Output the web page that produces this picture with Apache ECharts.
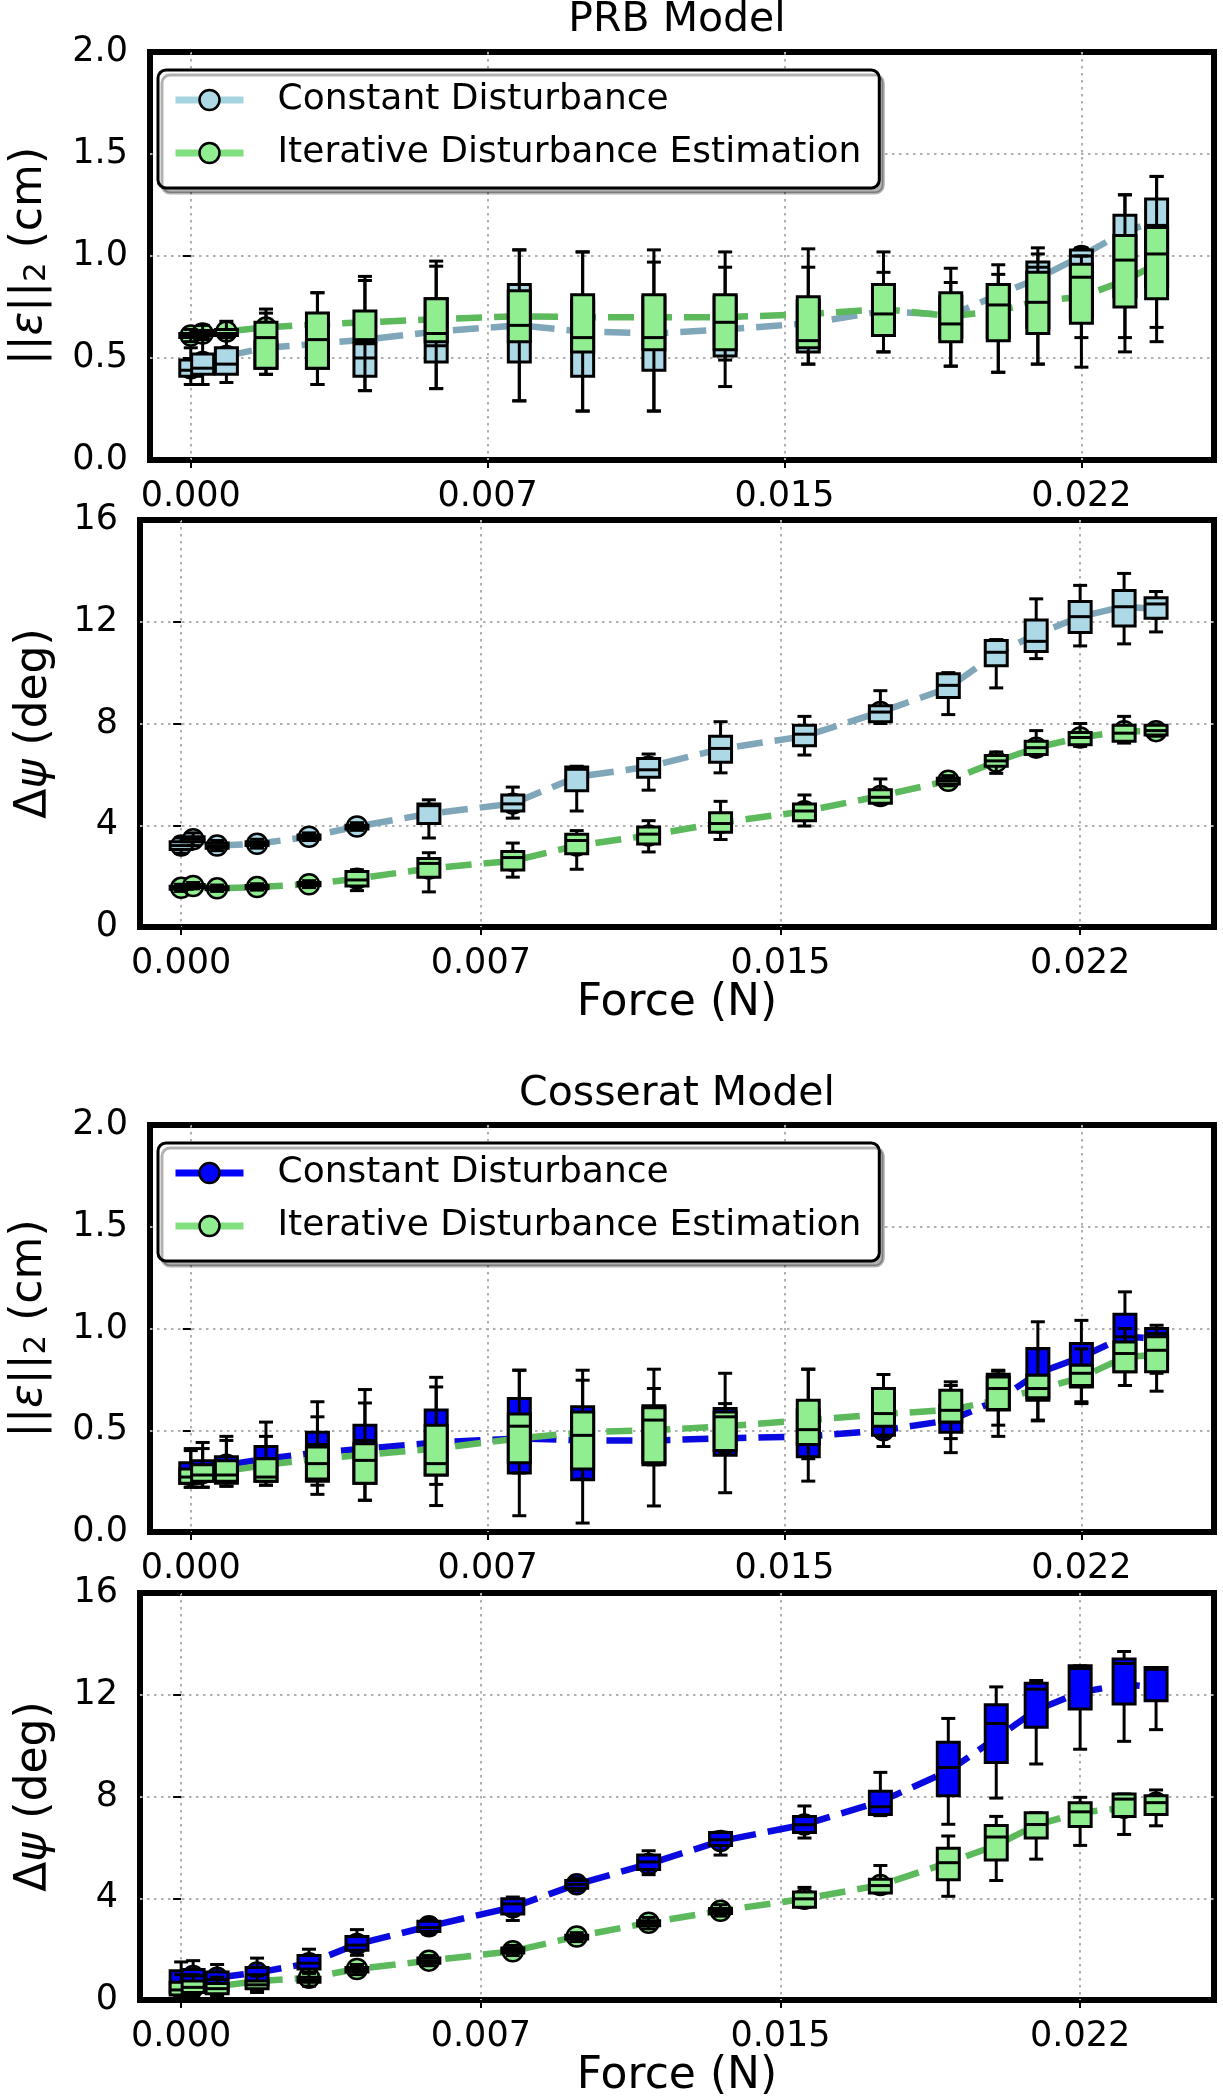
<!DOCTYPE html>
<html>
<head>
<meta charset="utf-8">
<title>PRB vs Cosserat</title>
<script src="https://cdn.jsdelivr.net/npm/echarts@6/dist/echarts.min.js"></script>
<style>
  html, body { margin: 0; padding: 0; background: #fff; }
  #chart { width: 1223px; height: 2100px; }
</style>
</head>
<body>
<div id="chart"></div>
<script>
// force values where the boxes sit (N)
var force = [0, 0.0003, 0.0009, 0.0019, 0.0032, 0.0044, 0.0062, 0.0083, 0.0099, 0.0117,
  0.0135, 0.0156, 0.0175, 0.0192, 0.0204, 0.0214, 0.0225, 0.0236, 0.0244];

// tick labels
var xTickValues = [0, 0.0075, 0.015, 0.0225];
var xTickLabels = ['0.000', '0.007', '0.015', '0.022'];
var errTickLabels = ['0.0', '0.5', '1.0', '1.5', '2.0'];
var psiTickLabels = ['0', '4', '8', '12', '16'];

// legend text
var legendText = {
  'PRB Constant': 'Constant Disturbance',
  'PRB Iterative': 'Iterative Disturbance Estimation',
  'Cosserat Constant': 'Constant Disturbance',
  'Cosserat Iterative': 'Iterative Disturbance Estimation'
};

// box stats: [low whisker, q1, median, q3, high whisker]
// PRB model, position error (cm)
var prbErrConst = [
  [0.37, 0.41, 0.44, 0.49, 0.55], [0.37, 0.42, 0.45, 0.52, 0.60], [0.38, 0.42, 0.47, 0.55, 0.62],
  [0.42, 0.45, 0.48, 0.58, 0.72], [0.37, 0.45, 0.53, 0.58, 0.82], [0.34, 0.41, 0.50, 0.57, 0.88],
  [0.35, 0.48, 0.56, 0.79, 0.95], [0.29, 0.48, 0.675, 0.86, 1.03], [0.24, 0.41, 0.585, 0.78, 1.02],
  [0.24, 0.44, 0.66, 0.80, 0.97], [0.36, 0.51, 0.58, 0.80, 0.945], [0.47, 0.53, 0.56, 0.78, 0.945],
  [0.53, 0.62, 0.72, 0.85, 0.92], [0.46, 0.60, 0.70, 0.80, 0.87], [0.43, 0.60, 0.775, 0.86, 0.91],
  [0.47, 0.65, 0.945, 0.97, 1.04], [0.60, 0.70, 1.00, 1.03, 1.04], [0.60, 0.80, 1.10, 1.20, 1.30],
  [0.65, 0.85, 1.15, 1.28, 1.39]
];
var prbErrConstMean = [0.45, 0.48, 0.51, 0.55, 0.57, 0.59, 0.63, 0.66, 0.63, 0.62, 0.64, 0.67,
  0.73, 0.71, 0.81, 0.89, 1.00, 1.12, 1.17];
var prbErrIter = [
  [0.58, 0.60, 0.61, 0.62, 0.64], [0.59, 0.61, 0.62, 0.635, 0.66], [0.60, 0.61, 0.62, 0.64, 0.68],
  [0.42, 0.45, 0.60, 0.675, 0.74], [0.37, 0.45, 0.59, 0.72, 0.82], [0.34, 0.58, 0.59, 0.73, 0.90],
  [0.35, 0.58, 0.62, 0.79, 0.975], [0.29, 0.58, 0.66, 0.83, 1.03], [0.24, 0.53, 0.60, 0.81, 1.02],
  [0.24, 0.54, 0.60, 0.81, 1.03], [0.49, 0.54, 0.675, 0.81, 1.02], [0.47, 0.55, 0.585, 0.80, 1.035],
  [0.53, 0.61, 0.716, 0.86, 1.02], [0.46, 0.58, 0.667, 0.82, 0.94], [0.43, 0.585, 0.76, 0.86, 0.957],
  [0.47, 0.62, 0.773, 0.92, 1.01], [0.455, 0.67, 0.896, 0.96, 1.00], [0.53, 0.75, 0.98, 1.10, 1.30],
  [0.58, 0.79, 1.01, 1.14, 1.39]
];
var prbErrIterMean = [0.61, 0.62, 0.63, 0.65, 0.665, 0.675, 0.69, 0.705, 0.70, 0.70, 0.70, 0.715,
  0.74, 0.705, 0.73, 0.78, 0.80, 0.88, 0.96];

// PRB model, orientation error (deg)
var prbPsiConst = [
  [2.9, 3.05, 3.2, 3.35, 3.5], [3.2, 3.35, 3.45, 3.55, 3.7], [3.0, 3.1, 3.2, 3.3, 3.4],
  [3.1, 3.2, 3.25, 3.35, 3.45], [3.4, 3.45, 3.55, 3.62, 3.7], [3.8, 3.85, 3.92, 4.0, 4.1],
  [3.5, 4.07, 4.77, 4.84, 5.0], [4.28, 4.56, 4.84, 5.19, 5.5], [4.56, 5.36, 6.2, 6.29, 6.32],
  [5.38, 5.89, 6.18, 6.62, 6.8], [6.06, 6.48, 7.02, 7.5, 8.07], [6.76, 7.13, 7.58, 7.93, 8.28],
  [8.0, 8.07, 8.45, 8.7, 9.29], [8.35, 9.02, 9.5, 9.96, 10.0], [9.4, 10.27, 10.8, 11.26, 11.3],
  [10.55, 10.83, 11.23, 12.07, 12.9], [11.05, 11.58, 12.2, 12.8, 13.43], [11.13, 11.83, 12.59, 13.23, 13.9],
  [11.6, 12.14, 12.7, 12.94, 13.19]
];
var prbPsiConstMean = [3.2, 3.45, 3.2, 3.27, 3.55, 3.95, 4.45, 4.85, 5.9, 6.3, 7.0, 7.5, 8.45, 9.4,
  10.75, 11.5, 12.2, 12.6, 12.5];
var prbPsiIter = [
  [1.4, 1.48, 1.54, 1.6, 1.68], [1.5, 1.55, 1.61, 1.67, 1.75], [1.4, 1.46, 1.52, 1.58, 1.65],
  [1.45, 1.5, 1.57, 1.63, 1.7], [1.55, 1.62, 1.68, 1.75, 1.82], [1.43, 1.61, 1.85, 2.18, 2.25],
  [1.38, 1.96, 2.5, 2.69, 2.92], [1.96, 2.24, 2.73, 2.97, 3.3], [2.27, 2.88, 3.4, 3.65, 3.79],
  [2.95, 3.26, 3.65, 3.93, 4.18], [3.44, 3.72, 4.07, 4.49, 4.94], [3.97, 4.18, 4.56, 4.84, 5.19],
  [4.84, 4.86, 5.1, 5.4, 5.82], [5.55, 5.62, 5.75, 5.85, 5.95], [6.04, 6.32, 6.53, 6.74, 6.88],
  [6.74, 6.78, 7.05, 7.3, 7.72], [7.1, 7.16, 7.45, 7.65, 8.0], [7.23, 7.3, 7.62, 7.93, 8.28],
  [7.5, 7.55, 7.72, 7.93, 7.95]
];
var prbPsiIterMean = [1.54, 1.61, 1.52, 1.57, 1.68, 1.9, 2.3, 2.6, 3.2, 3.6, 4.1, 4.55, 5.15, 5.75,
  6.5, 7.05, 7.45, 7.7, 7.7];

// Cosserat model, position error (cm)
var cosErrConst = [
  [0.22, 0.24, 0.28, 0.34, 0.41], [0.22, 0.25, 0.30, 0.35, 0.44], [0.225, 0.24, 0.31, 0.37, 0.47],
  [0.23, 0.25, 0.36, 0.42, 0.54], [0.185, 0.25, 0.43, 0.49, 0.64], [0.156, 0.24, 0.45, 0.525, 0.70],
  [0.13, 0.28, 0.52, 0.60, 0.76], [0.08, 0.29, 0.40, 0.656, 0.795], [0.044, 0.257, 0.35, 0.615, 0.795],
  [0.128, 0.33, 0.39, 0.62, 0.80], [0.193, 0.377, 0.41, 0.607, 0.78], [0.25, 0.37, 0.43, 0.60, 0.80],
  [0.42, 0.475, 0.53, 0.60, 0.70], [0.39, 0.49, 0.54, 0.62, 0.72], [0.47, 0.60, 0.74, 0.775, 0.795],
  [0.546, 0.648, 0.77, 0.902, 1.033], [0.631, 0.713, 0.82, 0.926, 1.04], [0.72, 0.787, 0.959, 1.07, 1.18],
  [0.78, 0.85, 0.975, 1.0, 1.016]
];
var cosErrConstMean = [0.29, 0.30, 0.33, 0.36, 0.39, 0.41, 0.44, 0.46, 0.45, 0.45, 0.46, 0.47,
  0.50, 0.55, 0.65, 0.78, 0.86, 0.96, 0.95];
var cosErrIter = [
  [0.22, 0.24, 0.27, 0.31, 0.40], [0.22, 0.25, 0.28, 0.33, 0.41], [0.225, 0.25, 0.28, 0.35, 0.45],
  [0.23, 0.25, 0.27, 0.36, 0.47], [0.23, 0.26, 0.336, 0.418, 0.566], [0.156, 0.24, 0.352, 0.434, 0.634],
  [0.234, 0.28, 0.336, 0.525, 0.713], [0.29, 0.34, 0.52, 0.58, 0.795], [0.26, 0.31, 0.475, 0.59, 0.746],
  [0.33, 0.34, 0.55, 0.61, 0.705], [0.39, 0.40, 0.566, 0.59, 0.631], [0.36, 0.43, 0.503, 0.648, 0.80],
  [0.47, 0.52, 0.582, 0.705, 0.774], [0.459, 0.54, 0.598, 0.697, 0.738], [0.525, 0.602, 0.705, 0.762, 0.79],
  [0.55, 0.66, 0.705, 0.77, 0.90], [0.64, 0.72, 0.78, 0.82, 0.90], [0.72, 0.787, 0.877, 0.934, 1.0],
  [0.692, 0.787, 0.893, 0.96, 1.0]
];
var cosErrIterMean = [0.28, 0.29, 0.30, 0.33, 0.36, 0.38, 0.41, 0.46, 0.49, 0.50, 0.52, 0.55,
  0.58, 0.60, 0.65, 0.70, 0.76, 0.86, 0.87];

// Cosserat model, orientation error (deg)
var cosPsiConst = [
  [0.15, 0.3, 0.7, 1.15, 1.5], [0.2, 0.45, 0.95, 1.2, 1.55], [0.2, 0.35, 0.8, 1.1, 1.4],
  [0.4, 0.6, 1.0, 1.28, 1.65], [1.1, 1.22, 1.45, 1.75, 2.0], [1.76, 1.96, 2.16, 2.5, 2.77],
  [2.6, 2.7, 2.85, 3.1, 3.2], [3.13, 3.38, 3.78, 3.98, 4.05], [4.3, 4.4, 4.55, 4.7, 4.8],
  [4.93, 5.13, 5.43, 5.7, 5.87], [5.7, 6.08, 6.3, 6.59, 6.6], [6.37, 6.59, 6.89, 7.22, 7.63],
  [7.25, 7.29, 7.6, 8.21, 8.95], [6.91, 8.03, 9.14, 10.13, 11.07], [7.94, 9.34, 10.87, 11.61, 12.31],
  [9.28, 10.72, 12.22, 12.45, 12.56], [9.86, 11.44, 13.03, 13.14, 13.14], [10.17, 11.64, 13.23, 13.41, 13.7],
  [10.63, 11.77, 13.0, 13.07, 13.07]
];
var cosPsiConstMean = [0.75, 0.95, 0.88, 1.08, 1.45, 2.2, 2.9, 3.65, 4.55, 5.35, 6.25, 6.9, 7.8,
  9.0, 10.3, 11.4, 12.1, 12.4, 12.3];
var cosPsiIter = [
  [0.1, 0.2, 0.4, 0.7, 1.0], [0.15, 0.3, 0.5, 0.75, 1.0], [0.1, 0.25, 0.45, 0.65, 0.9],
  [0.3, 0.45, 0.6, 0.75, 0.95], [0.55, 0.7, 0.8, 0.9, 1.05], [1.0, 1.1, 1.18, 1.28, 1.4],
  [1.35, 1.45, 1.55, 1.65, 1.75], [1.75, 1.85, 1.95, 2.05, 2.15], [2.3, 2.4, 2.48, 2.55, 2.65],
  [2.8, 2.92, 3.02, 3.12, 3.25], [3.3, 3.4, 3.5, 3.6, 3.75], [3.65, 3.65, 3.98, 4.25, 4.43],
  [4.21, 4.21, 4.5, 4.75, 5.29], [4.08, 4.73, 5.4, 5.97, 6.45], [4.7, 5.51, 6.41, 6.86, 7.22],
  [5.54, 6.37, 6.9, 7.36, 7.36], [6.08, 6.82, 7.4, 7.76, 7.97], [6.51, 7.22, 7.9, 8.1, 8.1],
  [6.85, 7.29, 7.76, 8.03, 8.26]
];
var cosPsiIterMean = [0.45, 0.5, 0.54, 0.74, 0.88, 1.22, 1.55, 1.92, 2.5, 3.04, 3.51, 3.98, 4.52,
  5.4, 6.08, 6.89, 7.36, 7.56, 7.76];

// ---- styles ----
var FONT = 'DejaVu Sans';
var looks = {
  prbConst: { fill: '#add8e6', line: '#7fa7b9', legendLine: '#a6d3e0' },
  prbIter: { fill: '#90ee90', line: '#5cba5c', legendLine: '#80e080' },
  cosConst: { fill: '#0000ff', line: '#0a0ae0', legendLine: '#0000ff' },
  cosIter: { fill: '#90ee90', line: '#5cba5c', legendLine: '#80e080' }
};

function ink() {
  return { stroke: '#000', lineWidth: 3 };
}

// boxes drawn through the axis scales
function boxRenderer(fill) {
  return function (params, api) {
    var x = api.value(0);
    var y = [1, 2, 3, 4, 5].map(function (d) { return api.coord([x, api.value(d)])[1]; });
    var cx = api.coord([x, 0])[0];
    var hw = 11, cw = 7;
    return {
      type: 'group',
      children: [
        { type: 'line', shape: { x1: cx, y1: y[0], x2: cx, y2: y[1] }, style: ink() },
        { type: 'line', shape: { x1: cx, y1: y[3], x2: cx, y2: y[4] }, style: ink() },
        { type: 'line', shape: { x1: cx - cw, y1: y[0], x2: cx + cw, y2: y[0] }, style: ink() },
        { type: 'line', shape: { x1: cx - cw, y1: y[4], x2: cx + cw, y2: y[4] }, style: ink() },
        { type: 'rect', shape: { x: cx - hw, y: y[3], width: hw * 2, height: y[1] - y[3] },
          style: { fill: fill, stroke: '#000', lineWidth: 3 } },
        { type: 'line', shape: { x1: cx - hw, y1: y[2], x2: cx + hw, y2: y[2] }, style: ink() }
      ]
    };
  };
}

function boxData(stats) {
  return stats.map(function (s, i) { return [force[i]].concat(s); });
}
function meanData(means) {
  return means.map(function (m, i) { return [force[i], m]; });
}

function meanSeries(name, idx, means, look) {
  return {
    name: name, type: 'line', xAxisIndex: idx, yAxisIndex: idx, z: 2,
    data: meanData(means),
    symbol: 'circle', symbolSize: 20,
    itemStyle: { color: look.fill, borderColor: '#000', borderWidth: 2.5 },
    lineStyle: { color: look.line, width: 6.5, type: [26, 12], cap: 'butt' },
    emphasis: { disabled: true },
    silent: true
  };
}
function boxSeries(idx, stats, look, z) {
  return {
    type: 'custom', xAxisIndex: idx, yAxisIndex: idx, z: z,
    renderItem: boxRenderer(look.fill),
    encode: { x: 0, y: [1, 2, 3, 4, 5] },
    data: boxData(stats),
    silent: true
  };
}

var gridTops = [52, 520, 1125, 1593];
var gridHeights = [408, 407, 407, 408];

var grids = gridTops.map(function (t, i) {
  return {
    left: 140, right: 9, top: t, height: gridHeights[i],
    show: true, borderColor: '#000', borderWidth: 6, backgroundColor: 'transparent'
  };
});

var dotted = { color: '#b0b0b0', width: 2, type: [2.5, 4.5] };

var xAxes = gridTops.map(function (t, i) {
  var showName = (i === 1 || i === 3);
  return {
    type: 'value', gridIndex: i, min: -0.00103, max: 0.02585,
    name: showName ? 'Force (N)' : '', nameLocation: 'middle', nameGap: 54,
    nameTextStyle: { fontSize: 44, color: '#000', fontFamily: FONT },
    axisLine: { show: false },
    axisTick: { show: true, customValues: xTickValues, length: 8, lineStyle: { color: '#000', width: 2 } },
    axisLabel: {
      customValues: xTickValues, margin: 19, fontSize: 35, color: '#000', fontFamily: FONT,
      formatter: function (v) {
        var k = xTickValues.indexOf(v);
        return k >= 0 ? xTickLabels[k] : '';
      }
    },
    splitLine: { show: true, lineStyle: dotted }
  };
});

var nameRich = {
  i: { fontSize: 44, fontStyle: 'italic', color: '#000', fontFamily: FONT },
  s: { fontSize: 31, lineHeight: 16, verticalAlign: 'bottom', color: '#000', fontFamily: FONT }
};

var yAxes = gridTops.map(function (t, i) {
  var isErr = (i === 0 || i === 2);
  var step = isErr ? 0.5 : 4;
  var labels = isErr ? errTickLabels : psiTickLabels;
  return {
    type: 'value', gridIndex: i, min: 0, max: isErr ? 2 : 16, interval: step,
    name: isErr ? '||{i|ε}||{s|2} (cm)' : 'Δ{i|ψ} (deg)',
    nameLocation: 'middle', nameGap: isErr ? 98 : 83,
    nameTextStyle: { fontSize: 44, lineHeight: 44, color: '#000', fontFamily: FONT, rich: nameRich },
    axisLine: { show: false },
    axisTick: { show: true, length: 8, lineStyle: { color: '#000', width: 2 } },
    axisLabel: {
      margin: 22, fontSize: 35, color: '#000', fontFamily: FONT,
      formatter: function (v) { return labels[Math.round(v / step)]; }
    },
    splitLine: { show: true, showMinLine: false, showMaxLine: false, lineStyle: dotted }
  };
});

function legendFor(top, cName, iName, cLook, iLook) {
  return {
    orient: 'vertical', left: 158, top: top,
    data: [
      { name: cName, itemStyle: { color: cLook.fill, borderColor: '#000', borderWidth: 2.5 },
        lineStyle: { color: cLook.legendLine, width: 7, type: 'solid' } },
      { name: iName, itemStyle: { color: iLook.fill, borderColor: '#000', borderWidth: 2.5 },
        lineStyle: { color: iLook.legendLine, width: 7, type: 'solid' } }
    ],
    formatter: function (n) { return legendText[n]; },
    itemWidth: 68, itemHeight: 25, itemGap: 17,
    textStyle: { fontSize: 36, color: '#000', fontFamily: FONT, lineHeight: 36, padding: [0, 0, 0, 29] },
    backgroundColor: '#fff', borderColor: '#000', borderWidth: 3, borderRadius: 8,
    padding: [12, 18, 17, 14],
    shadowColor: 'rgba(0,0,0,0.3)', shadowOffsetX: 4, shadowOffsetY: 5, shadowBlur: 0,
    selectedMode: false
  };
}

var option = {
  animation: false,
  backgroundColor: '#fff',
  textStyle: { fontFamily: FONT },
  title: [
    { text: 'PRB Model', left: 677, top: 0, textAlign: 'center', padding: 0,
      textStyle: { fontSize: 41, fontWeight: 'normal', color: '#000', fontFamily: FONT } },
    { text: 'Cosserat Model', left: 677, top: 1074, textAlign: 'center', padding: 0,
      textStyle: { fontSize: 41, fontWeight: 'normal', color: '#000', fontFamily: FONT } }
  ],
  legend: [
    legendFor(70, 'PRB Constant', 'PRB Iterative', looks.prbConst, looks.prbIter),
    legendFor(1143, 'Cosserat Constant', 'Cosserat Iterative', looks.cosConst, looks.cosIter)
  ],
  grid: grids,
  xAxis: xAxes,
  yAxis: yAxes,
  series: [
    meanSeries('PRB Constant', 0, prbErrConstMean, looks.prbConst),
    meanSeries('PRB Iterative', 0, prbErrIterMean, looks.prbIter),
    boxSeries(0, prbErrConst, looks.prbConst, 3),
    boxSeries(0, prbErrIter, looks.prbIter, 4),

    meanSeries('PRB Constant', 1, prbPsiConstMean, looks.prbConst),
    meanSeries('PRB Iterative', 1, prbPsiIterMean, looks.prbIter),
    boxSeries(1, prbPsiConst, looks.prbConst, 3),
    boxSeries(1, prbPsiIter, looks.prbIter, 4),

    meanSeries('Cosserat Constant', 2, cosErrConstMean, looks.cosConst),
    meanSeries('Cosserat Iterative', 2, cosErrIterMean, looks.cosIter),
    boxSeries(2, cosErrConst, looks.cosConst, 3),
    boxSeries(2, cosErrIter, looks.cosIter, 4),

    meanSeries('Cosserat Constant', 3, cosPsiConstMean, looks.cosConst),
    meanSeries('Cosserat Iterative', 3, cosPsiIterMean, looks.cosIter),
    boxSeries(3, cosPsiConst, looks.cosConst, 3),
    boxSeries(3, cosPsiIter, looks.cosIter, 4)
  ]
};

var chart = echarts.init(document.getElementById('chart'), null, { renderer: 'canvas' });
chart.setOption(option);
</script>
</body>
</html>
